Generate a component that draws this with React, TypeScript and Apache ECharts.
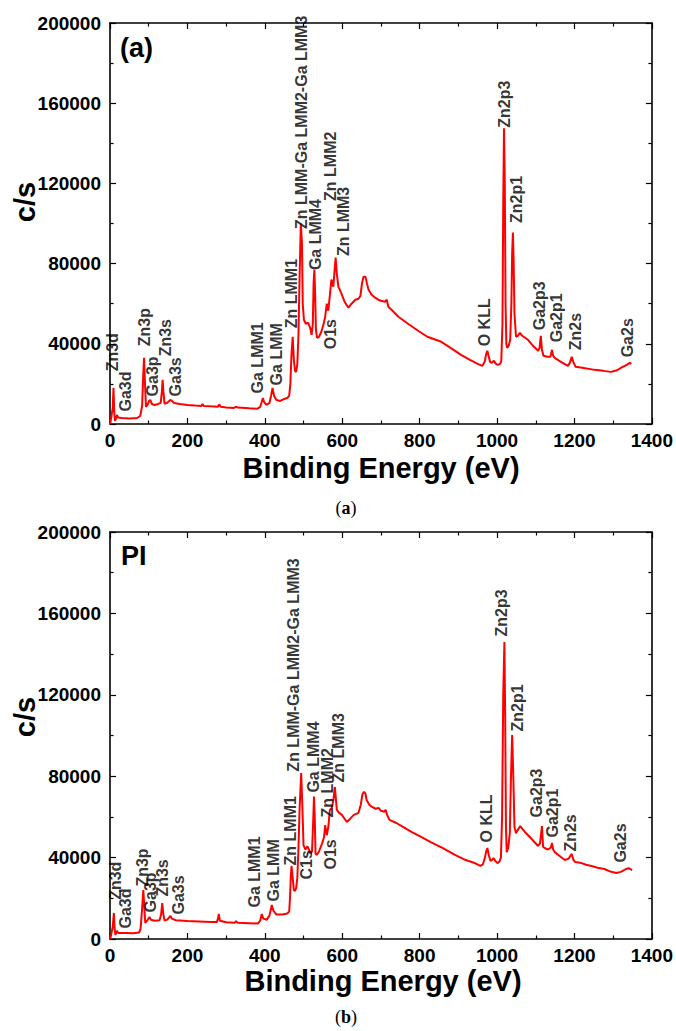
import React, { useEffect, useRef } from "react";
import * as echarts from "echarts";

// ---------- data ----------
const xTicks = [0, 200, 400, 600, 800, 1000, 1200, 1400];
const yTicks = [0, 40000, 80000, 120000, 160000, 200000];

// Panel (a) survey spectrum: [binding energy eV, counts/s]
const spectrumA: [number, number][] = [
  [0, 0], [3, 3000], [7, 8000], [9, 18000], [11, 6000], [13, 1500], [16, 3000], [18, 4500], [21, 3200],
  [30, 3000], [50, 2800], [70, 3000], [78, 4000], [83, 9000], [86, 25000], [88, 33000], [90, 22000],
  [93, 8500], [97, 9500], [101, 11500], [104, 12000], [108, 10000], [115, 9500], [125, 10000], [131, 10500],
  [134, 16000], [136, 22000], [138, 16000], [141, 10000], [147, 10500], [153, 11500], [157, 12000],
  [160, 11500], [166, 10500], [180, 10000], [200, 9500], [220, 9200], [236, 9000], [239, 10000], [242, 9000],
  [260, 8800], [279, 8600], [282, 9800], [286, 8600], [300, 8200], [320, 8000], [325, 8600], [330, 8200],
  [360, 7800], [380, 7600], [388, 8500], [392, 11000], [395, 13000], [398, 11000], [404, 9500], [412, 10500],
  [416, 14000], [420, 18000], [424, 14000], [430, 12000], [440, 11500], [450, 12500], [458, 13000],
  [463, 14000], [466, 20000], [469, 35000], [472, 43500], [475, 32000], [478, 26500], [481, 26000],
  [484, 30000], [487, 45000], [490, 75000], [493, 100000], [496, 90000], [498, 60000], [501, 52000],
  [506, 50000], [512, 50500], [517, 48000], [521, 44500], [524, 50000], [526, 70000], [528, 77000],
  [530, 65000], [532, 47000], [535, 43000], [540, 43500], [546, 46000], [552, 50000], [556, 53500],
  [560, 60000], [564, 56500], [568, 64000], [572, 72000], [577, 68500], [580, 76000], [583, 83000],
  [586, 75000], [590, 68500], [598, 65000], [606, 61000], [616, 58000], [624, 60000], [634, 62000],
  [642, 62500], [647, 64000], [651, 70000], [655, 73500], [660, 73500], [664, 70000], [668, 67000],
  [676, 64500], [685, 63000], [693, 62000], [700, 61500], [711, 61000], [715, 62000], [719, 58500],
  [730, 56500], [745, 53500], [770, 50000], [796, 46500], [820, 43500], [856, 41000], [880, 38000],
  [907, 34500], [930, 32000], [950, 30000], [962, 29000], [968, 31000], [972, 35000], [975, 36500],
  [978, 34000], [982, 31000], [986, 30500], [992, 31500], [997, 30000], [1002, 29500], [1008, 30000],
  [1011, 31500], [1014, 50000], [1016, 110000], [1018, 147500], [1020, 120000], [1022, 60000],
  [1024, 40000], [1026, 38000], [1030, 39000], [1034, 42000], [1037, 60000], [1039, 85000],
  [1041, 95500], [1043, 80000], [1045, 55000], [1049, 43500], [1054, 44000], [1059, 45500],
  [1065, 44000], [1080, 42000], [1093, 39000], [1106, 36500], [1110, 38000], [1113, 44000],
  [1116, 37000], [1120, 34000], [1130, 33500], [1138, 33500], [1142, 37000], [1145, 34000],
  [1149, 33000], [1165, 31000], [1183, 29000], [1188, 30500], [1193, 33500], [1197, 31000],
  [1203, 28500], [1220, 28000], [1252, 27000], [1275, 26500], [1294, 26000], [1310, 26800],
  [1320, 28000], [1335, 29500], [1343, 30500], [1347, 30000],
];

// Panel (b) PI survey spectrum
const spectrumB: [number, number][] = [
  [0, 0], [3, 2000], [7, 6000], [10, 12800], [12, 5000], [14, 2000], [16, 3000], [18, 4000], [21, 3000],
  [40, 3000], [60, 2800], [75, 3200], [79, 5000], [83, 15000], [86, 24000], [88, 18000], [91, 8000],
  [96, 9000], [102, 10800], [106, 9500], [115, 9000], [128, 9200], [132, 12000], [135, 17700],
  [138, 12000], [141, 9000], [148, 9500], [156, 11300], [160, 10000], [170, 9200], [200, 8800],
  [230, 8600], [260, 8400], [276, 8300], [279, 10000], [281, 12300], [284, 9000], [300, 8200],
  [322, 8000], [326, 8800], [330, 8000], [360, 7800], [382, 7600], [388, 9000], [392, 12300],
  [396, 10000], [405, 9500], [412, 11500], [416, 15000], [418, 16700], [422, 14000], [430, 12000],
  [445, 12000], [458, 12500], [463, 13500], [465, 20000], [467, 30000], [469, 35900], [472, 30000],
  [475, 24000], [478, 23600], [481, 25000], [484, 30000], [487, 45000], [490, 65000], [494, 81500],
  [497, 65000], [500, 46000], [505, 44000], [510, 45500], [514, 44000], [518, 42000], [522, 43000],
  [525, 58000], [527, 70000], [529, 60000], [531, 42000], [534, 41300], [540, 43000], [548, 47000],
  [553, 50000], [556, 56000], [560, 51000], [564, 55000], [568, 63400], [573, 64400], [577, 68000],
  [581, 74700], [584, 68000], [586, 63400], [592, 62000], [599, 61000], [612, 57500], [620, 59000],
  [630, 61000], [642, 62000], [648, 66000], [652, 71000], [656, 72300], [660, 71500], [663, 68300],
  [670, 66000], [676, 65000], [686, 64000], [694, 64400], [700, 63000], [709, 62500], [712, 63500],
  [716, 61000], [722, 58500], [740, 57000], [758, 55000], [780, 52500], [800, 50500], [830, 47500],
  [860, 44700], [890, 41500], [919, 38800], [940, 37500], [957, 35900], [963, 36500], [968, 39500],
  [972, 43000], [975, 44700], [979, 41000], [983, 38300], [988, 39000], [991, 39800], [996, 38200],
  [1001, 37300], [1006, 38000], [1010, 40000], [1013, 60000], [1016, 120000], [1019, 145900],
  [1021, 110000], [1023, 55000], [1025, 42700], [1029, 45000], [1033, 52000], [1036, 80000],
  [1039, 100200], [1042, 80000], [1045, 55000], [1049, 52000], [1055, 54000], [1060, 55500],
  [1066, 54000], [1072, 52600], [1090, 49000], [1106, 45700], [1111, 47000], [1114, 52000],
  [1116, 55500], [1119, 45200], [1125, 44500], [1132, 44000], [1139, 45000], [1142, 47200],
  [1145, 44000], [1149, 42700], [1160, 41000], [1175, 38800], [1185, 39500], [1190, 41000],
  [1193, 41800], [1197, 39000], [1202, 37800], [1218, 37300], [1230, 36500], [1244, 35900],
  [1260, 35000], [1277, 34400], [1295, 33000], [1308, 32400], [1320, 33000], [1333, 34400],
  [1340, 34800], [1349, 33900],
];

// Peak labels: [energy where text is centred, counts at text start, text]
const peakLabelsA: [number, number, string][] = [
  [8, 26000, "Zn3d"], [41, 6000, "Ga3d"], [90, 38500, "Zn3p"], [111, 13500, "Ga3p"],
  [144, 33500, "Zn3s"], [170, 13500, "Ga3s"], [382, 15000, "Ga LMM1"], [431, 19000, "Ga LMM"],
  [469, 47500, "Zn LMM1"], [495, 97000, "Zn LMM-Ga LMM2-Ga LMM3"], [531, 76500, "Ga LMM4"],
  [570, 37000, "O1s"], [572, 111000, "Zn LMM2"], [605, 83500, "Zn LMM3"], [969, 38500, "O KLL"],
  [1020, 147500, "Zn2p3"], [1052, 100000, "Zn2p1"], [1111, 46500, "Ga2p3"], [1155, 40500, "Ga2p1"],
  [1204, 36500, "Zn2s"], [1338, 33000, "Ga2s"],
];

const peakLabelsB: [number, number, string][] = [
  [15, 19000, "Zn3d"], [41, 4900, "Ga3d"], [84, 25500, "Zn3p"], [107, 12800, "Ga3p"],
  [138, 20600, "Zn3s"], [178, 11800, "Ga3s"], [375, 15200, "Ga LMM1"], [424, 18200, "Ga LMM"],
  [468, 35900, "Zn LMM1"], [509, 29000, "C1s"], [476, 82000, "Zn LMM-Ga LMM2-Ga LMM3"],
  [527, 71700, "Ga LMM4"], [563, 59500, "Zn LMM2"], [592, 76700, "Zn LMM3"], [570, 33900, "O1s"],
  [974, 47200, "O KLL"], [1014, 148400, "Zn2p3"], [1053, 101700, "Zn2p1"], [1104, 59500, "Ga2p3"],
  [1145, 49600, "Ga2p1"], [1192, 42700, "Zn2s"], [1319, 37300, "Ga2s"],
];

const panelTags = ["(a)", "PI"];
const captions = ["a", "b"];
const xAxisTitle = "Binding Energy (eV)";
const yAxisTitle = "c/s";

// ---------- chart ----------
const FONT = "Arial, 'Liberation Sans', sans-serif";

function xAxisFor(grid: number, top: boolean) {
  return {
    type: "value",
    gridIndex: grid,
    position: top ? "top" : "bottom",
    min: xTicks[0],
    max: xTicks[xTicks.length - 1],
    interval: xTicks[1] - xTicks[0],
    axisLine: { show: true, onZero: false, lineStyle: { color: "#000", width: 1.6 } },
    axisTick: { show: true, inside: true, length: 6, lineStyle: { color: "#000", width: 1.2 } },
    minorTick: { show: true, splitNumber: 2, length: 3.5, lineStyle: { color: "#000", width: 1.2 } },
    splitLine: { show: false },
    axisLabel: {
      show: !top, color: "#000", fontSize: 19, fontWeight: "bold", fontFamily: FONT, margin: 7,
      lineHeight: 18,
      formatter: (v: number) => String(v),
    },
  };
}

function yAxisFor(grid: number, right: boolean) {
  return {
    type: "value",
    gridIndex: grid,
    position: right ? "right" : "left",
    min: yTicks[0],
    max: yTicks[yTicks.length - 1],
    interval: yTicks[1] - yTicks[0],
    axisLine: { show: true, onZero: false, lineStyle: { color: "#000", width: 1.6 } },
    axisTick: { show: true, inside: true, length: 6, lineStyle: { color: "#000", width: 1.2 } },
    minorTick: { show: true, splitNumber: 2, length: 3.5, lineStyle: { color: "#000", width: 1.2 } },
    splitLine: { show: false },
    axisLabel: {
      show: !right, color: "#000", fontSize: 19, fontWeight: "bold", fontFamily: FONT, margin: 9,
      lineHeight: 19,
      formatter: (v: number) => String(v),
    },
  };
}

function labelSeries(idx: number, labels: [number, number, string][]) {
  return {
    type: "scatter",
    xAxisIndex: idx * 2,
    yAxisIndex: idx * 2,
    silent: true,
    symbolSize: 1,
    itemStyle: { color: "rgba(0,0,0,0)" },
    z: 5,
    data: labels.map((l) => [l[0], l[1], l[2]]),
    label: {
      show: true,
      position: [0, 0],
      rotate: 90,
      align: "left",
      verticalAlign: "middle",
      color: "#000",
      fontSize: 16,
      fontWeight: "bold",
      fontFamily: FONT,
      lineHeight: 14,
      formatter: (p: any) => p.data[2],
    },
  };
}

function lineSeries(idx: number, data: [number, number][]) {
  return {
    type: "line",
    xAxisIndex: idx * 2,
    yAxisIndex: idx * 2,
    data,
    showSymbol: false,
    symbol: "none",
    lineStyle: { color: "#ff0000", width: 2 },
    z: 3,
  };
}

export default function App() {
  const ref = useRef<HTMLDivElement>(null);
  useEffect(() => {
    if (!ref.current) return;
    const chart = echarts.init(ref.current, null, { renderer: "svg" });
    const grids = [
      { left: 110, top: 23, width: 544, height: 401 },
      { left: 110, top: 532, width: 548, height: 407 },
    ];
    const graphics: any[] = [];
    const yTitleCenters = [202, 717];
    const xTitleCenters = [
      [381, 468],
      [383, 981],
    ];
    const tagPos = [
      [120, 48],
      [121, 556],
    ];
    const capPos = [
      [346, 508],
      [346, 1017],
    ];
    for (let i = 0; i < 2; i++) {
      graphics.push({
        type: "text",
        x: 25,
        y: yTitleCenters[i],
        rotation: Math.PI / 2,
        style: {
          text: yAxisTitle, fill: "#000", font: `bold 29px ${FONT}`, lineHeight: 26,
          align: "center", verticalAlign: "middle",
        },
      });
      graphics.push({
        type: "text",
        x: xTitleCenters[i][0],
        y: xTitleCenters[i][1],
        style: {
          text: xAxisTitle, fill: "#000", font: `bold 29px ${FONT}`, lineHeight: 24,
          align: "center", verticalAlign: "middle",
        },
      });
      graphics.push({
        type: "text",
        x: tagPos[i][0],
        y: tagPos[i][1],
        style: {
          text: panelTags[i], fill: "#000", font: `bold 27px ${FONT}`,
          align: "left", verticalAlign: "middle",
        },
      });
      graphics.push({
        type: "text",
        x: capPos[i][0],
        y: capPos[i][1],
        style: {
          text: `{p|(}{b|${captions[i]}}{p|)}`,
          align: "center",
          verticalAlign: "middle",
          rich: {
            p: { fontFamily: "'Liberation Serif', serif", fontSize: 18, fill: "#000", color: "#000" },
            b: { fontFamily: "'Liberation Serif', serif", fontSize: 18, fontWeight: "bold", fill: "#000", color: "#000" },
          },
        },
      });
    }
    chart.setOption({
      animation: false,
      backgroundColor: "#fff",
      grid: grids,
      xAxis: [xAxisFor(0, false), xAxisFor(0, true), xAxisFor(1, false), xAxisFor(1, true)],
      yAxis: [yAxisFor(0, false), yAxisFor(0, true), yAxisFor(1, false), yAxisFor(1, true)],
      series: [
        lineSeries(0, spectrumA),
        lineSeries(1, spectrumB),
        labelSeries(0, peakLabelsA),
        labelSeries(1, peakLabelsB),
      ],
      graphic: graphics,
    });
    return () => chart.dispose();
  }, []);
  return (
    <div
      ref={ref}
      style={{ position: "absolute", left: 0, top: 0, width: 676, height: 1031 }}
    />
  );
}
